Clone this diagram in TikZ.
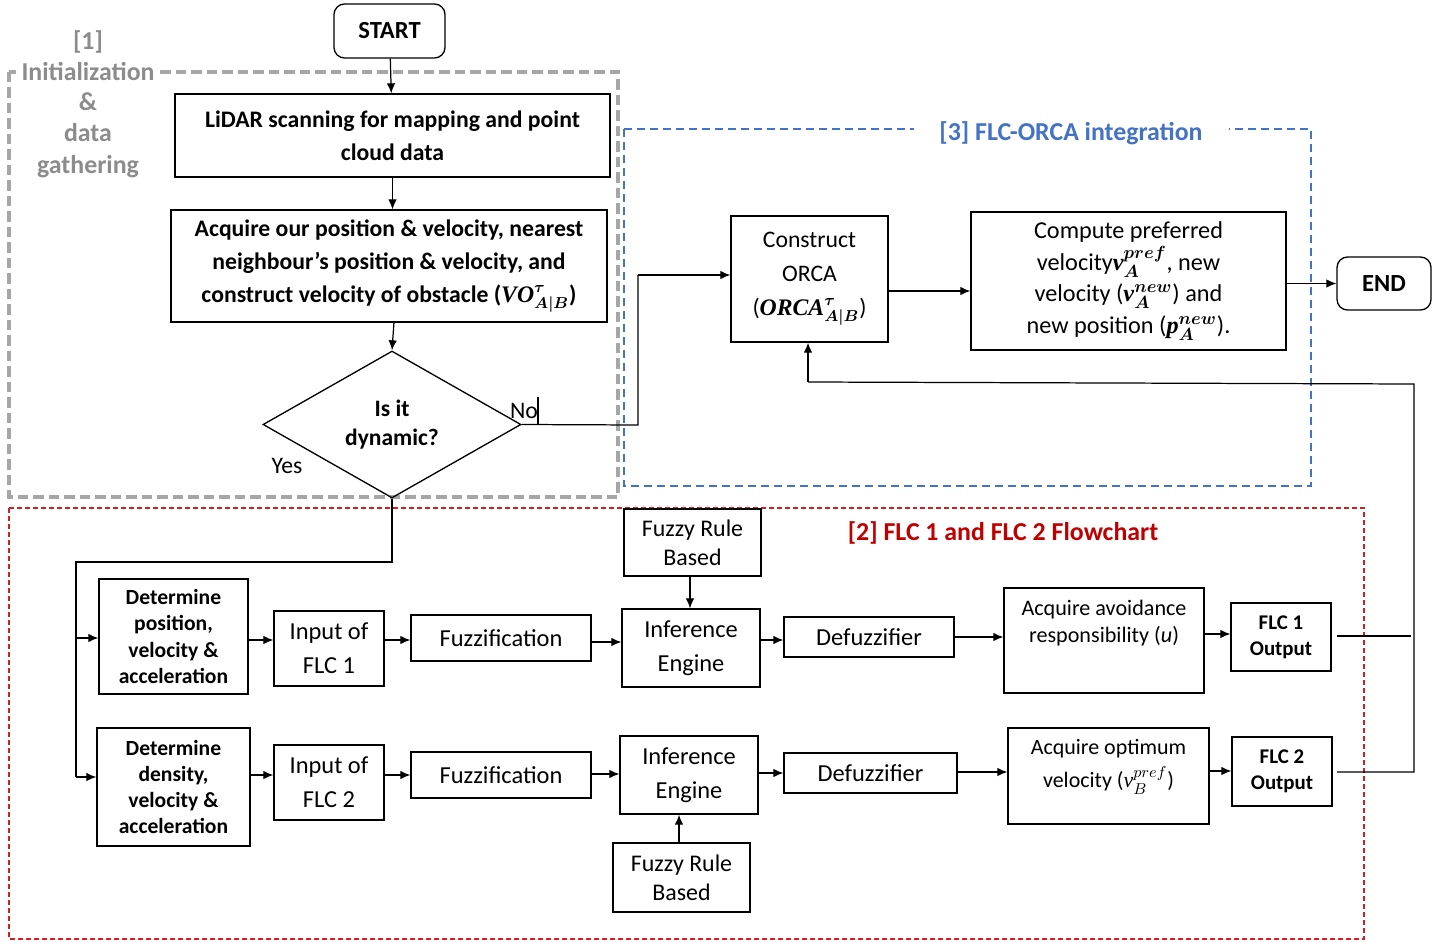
\documentclass[tikz,border=0pt]{standalone}
\usepackage{amsmath,bm}
\usepackage{fontspec}
\setmainfont{Carlito}
\newfontfamily\symfont{Liberation Serif}
\usetikzlibrary{shapes.geometric,arrows.meta}
\definecolor{initgray}{RGB}{166,166,166}
\definecolor{inittext}{RGB}{140,140,140}
\definecolor{orcablue}{RGB}{68,114,196}
\definecolor{flcred}{RGB}{210,30,30}
\definecolor{flctext}{RGB}{192,0,0}
% bold italic serif symbol with bold math scripts
\newcommand{\bsym}[3]{$\text{\symfont\bfseries\itshape #1}^{\bm{#2}}_{\bm{#3}}$}
\begin{document}
\begin{tikzpicture}[x=0.02cm,y=-0.02cm,
  box/.style 2 args={draw, line width=0.75pt, minimum width=#1*0.02cm,
    minimum height=#2*0.02cm, inner sep=0pt, align=center},
  term/.style 2 args={box={#1}{#2}, rounded corners=6pt},
  bigb/.style={font=\fontsize{13.5}{18.8}\selectfont\bfseries},
  termb/.style={font=\fontsize{14}{16}\selectfont\bfseries},
  midr/.style={font=\fontsize{13.9}{19.3}\selectfont},
  rulef/.style={font=\fontsize{13.6}{16.5}\selectfont},
  detb/.style={font=\fontsize{12.3}{14.9}\selectfont\bfseries},
  outb/.style={font=\fontsize{11.9}{14.8}\selectfont\bfseries},
  link/.style={line width=0.7pt},
  arr/.style={link, -{Latex[length=0.2cm,width=0.17cm]}},
  grpttl/.style={font=\fontsize{14.7}{17.9}\selectfont\bfseries, inner sep=0pt, align=center},
]
\useasboundingbox (0,0) rectangle (1452,942);

% ---------- group frames ----------
\draw[initgray, line width=1.8pt, dash pattern=on 0.21cm off 0.1cm] (9,72) rectangle (618,497);
\draw[orcablue, line width=1.4pt, dash pattern=on 0.17cm off 0.09cm] (624,129) rectangle (1311,486);
\draw[flcred, line width=0.75pt, dash pattern=on 0.1cm off 0.06cm] (9,508) rectangle (1364,939);

% ---------- group titles ----------
\node[grpttl, text=inittext] (t1a) at (88,42) {[1]};
\node[grpttl, text=inittext, fill=white, inner xsep=2pt, inner ysep=4pt] (t1b) at (88,72) {Initialization};
\node[grpttl, text=inittext] (t1c) at (88,135) {\&\\data\\gathering};
\node[grpttl, text=orcablue, fill=white, minimum width=315*0.02cm, minimum height=20*0.02cm] (t3) at (1071,133) {[3] FLC-ORCA integration};
\node[grpttl, text=flctext] (t2) at (1003,533) {[2] FLC 1 and FLC 2 Flowchart};

% ---------- initialization ----------
\node[term={111}{54}, termb] (start) at (389.5,31) {START};
\node[box={435}{83}, bigb] (lidar) at (392.5,135.5) {LiDAR scanning for mapping and point\\cloud data};
\node[box={436}{112}, bigb] (acq) at (389,266) {Acquire our position \& velocity, nearest\\neighbour’s position \& velocity, and\\construct velocity of obstacle (\bsym{VO}{\tau}{A|B})};
\node[draw, diamond, line width=0.75pt, minimum width=258*0.02cm, minimum height=147*0.02cm,
      inner sep=0pt, align=center, font=\fontsize{13.4}{16.5}\selectfont\bfseries] (dyn) at (392,424.5) {Is it\\dynamic?};
\node[font=\fontsize{13.5}{15}\selectfont, inner sep=0pt] (yes) at (287,466) {Yes};
\node[font=\fontsize{13.5}{15}\selectfont, inner sep=0pt] (no) at (524,411) {No};
\draw[link] (538,397) -- (538,425);

% ---------- FLC-ORCA integration ----------
\node[box={157}{126}, font=\fontsize{13.5}{19.3}\selectfont] (orca) at (809.5,279) {Construct\\ORCA\\(\bsym{ORCA}{\tau}{A|B})};
\node[box={315}{138}, font=\fontsize{13.8}{18}\selectfont] (pref) at (1128.5,281)
  {Compute preferred\\velocity\bsym{v}{pref}{A}, new\\velocity (\bsym{v}{new}{A}) and\\new position (\bsym{p}{new}{A}).};
\node[term={94}{53}, termb] (end) at (1384,283.5) {END};

% ---------- FLC 1 ----------
\node[box={149}{115}, detb] (det1) at (173.5,636.5) {Determine\\position,\\velocity \&\\acceleration};
\node[box={110}{75}, midr] (in1) at (329,648.5) {Input of\\FLC 1};
\node[box={180}{46}, midr] (fz1) at (501,638) {Fuzzification};
\node[box={137}{67}, rulef] (fr1) at (692.5,542.5) {Fuzzy Rule\\Based};
\node[box={138}{78}, midr] (ie1) at (691,648) {Inference\\Engine};
\node[box={170}{40}, midr] (df1) at (869,637) {Defuzzifier};
\node[box={200}{105}] (av) at (1104,640.5) {};
\node[font=\fontsize{12.6}{15}\selectfont, align=center, inner sep=0pt, anchor=north] (avt) at (1104,600) {Acquire avoidance\\responsibility (\textit{u})};
\node[box={100}{68}, outb] (o1) at (1281,637) {FLC 1\\Output};

% ---------- FLC 2 ----------
\node[box={153}{118}, detb] (det2) at (173.5,787) {Determine\\density,\\velocity \&\\acceleration};
\node[box={110}{75}, midr] (in2) at (329,782.5) {Input of\\FLC 2};
\node[box={180}{46}, midr] (fz2) at (501,775) {Fuzzification};
\node[box={138}{78}, midr] (ie2) at (689,775) {Inference\\Engine};
\node[box={137}{69}, rulef] (fr2) at (681.5,877.5) {Fuzzy Rule\\Based};
\node[box={173}{40}, midr] (df2) at (870.5,773) {Defuzzifier};
\node[box={201}{96}] (op) at (1108.5,776) {};
\node[font=\fontsize{12.5}{19}\selectfont, align=center, inner sep=0pt] (opt) at (1108.5,767) {Acquire optimum\\velocity ({\symfont\itshape v}$^{pref}_{B}$)};
\node[box={100}{69}, outb] (o2) at (1282,771.5) {FLC 2\\Output};

% ---------- routing points ----------
\coordinate (nob) at (638,425);
\coordinate (not) at (638,275);
\coordinate (ysa) at (392,562);
\coordinate (ysb) at (76,562);
\coordinate (br1) at (76,638);
\coordinate (br2) at (76,777);
\coordinate (fb1) at (1411,636);
\coordinate (fb2) at (1414,772);
\coordinate (fbt) at (1414,384);
\coordinate (fbl) at (808,382);

% ---------- connectors ----------
\draw[arr] (start) -- (lidar);
\draw[arr] (lidar) -- (lidar |- acq.north);
\draw[arr] (394,322) -- (dyn.north);
\draw[link] (dyn.east) -- (nob) -- (not);
\draw[arr] (not) -- (orca.west |- not);
\draw[arr] (orca.east |- 0,291) -- (pref.west |- 0,291);
\draw[arr] (pref.east |- end) -- (end);

\draw[link] (dyn.south) -- (ysa) -- (ysb) -- (br2);
\draw[arr] (br1) -- (det1.west |- br1);
\draw[arr] (br2) -- (det2.west |- br2);

\draw[arr] (det1.east |- 0,640) -- (in1.west |- 0,640);
\draw[arr] (in1.east |- 0,640) -- (fz1.west |- 0,640);
\draw[arr] (fz1.east |- 0,642) -- (ie1.west |- 0,642);
\draw[arr] (fr1.south -| 690,0) -- (ie1.north -| 690,0);
\draw[arr] (ie1.east |- 0,640) -- (df1.west |- 0,640);
\draw[arr] (df1.east |- 0,637) -- (av.west |- 0,637);
\draw[arr] (av.east |- 0,634) -- (o1.west |- 0,634);

\draw[arr] (det2.east |- 0,775) -- (in2.west |- 0,775);
\draw[arr] (in2.east |- 0,775) -- (fz2.west |- 0,775);
\draw[arr] (fz2.east |- 0,774) -- (ie2.west |- 0,774);
\draw[arr] (fr2.north -| 679,0) -- (ie2.south -| 679,0);
\draw[arr] (ie2.east |- 0,773) -- (df2.west |- 0,773);
\draw[arr] (df2.east |- 0,772) -- (op.west |- 0,772);
\draw[arr] (op.east |- 0,771) -- (o2.west |- 0,771);

\draw[link] (1337,636) -- (fb1);
\draw[link] (1337,772) -- (fb2) -- (fbt) -- (fbl);
\draw[arr] (fbl) -- (orca.south -| fbl);
\end{tikzpicture}
\end{document}
